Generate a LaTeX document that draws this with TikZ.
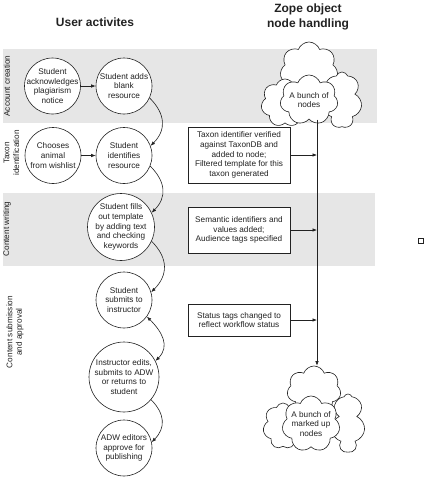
\documentclass[tikz,border=0pt]{standalone}
\usepackage{fontspec}
\setmainfont{Liberation Sans}
\usetikzlibrary{arrows.meta,shapes.symbols}
\definecolor{band}{HTML}{E6E6E6}
\definecolor{ink}{HTML}{222222}
\begin{document}
\begin{tikzpicture}[x=1pt,y=-1pt,
  every node/.style={font=\fontsize{8.2}{9.7}\selectfont, text=ink},
  ttl/.style={font=\bfseries\fontsize{12}{15}\selectfont, align=center},
  lane/.style={rotate=90, align=center},
  circ/.style={circle, draw=ink, line width=0.6pt, fill=white, inner sep=0pt, minimum size=#1},
  circ/.default=56pt,
  ctext/.style={align=center},
  box/.style={rectangle, draw=ink, line width=0.6pt, fill=white, align=center, minimum width=102pt, inner sep=1pt},
  puff/.style={cloud, cloud puffs=7, cloud puff arc=140, cloud ignores aspect, draw=ink, fill=white, line width=0.6pt, inner sep=0pt},
  arr/.style={draw=ink, line width=0.6pt, -{Latex[length=4.5pt,width=3.5pt]}},
  darr/.style={draw=ink, line width=0.6pt, {Latex[length=4.5pt,width=3.5pt]}-{Latex[length=4.5pt,width=3.5pt]}}
]
\useasboundingbox (0,0) rectangle (424,480);
% bands
\fill[band] (3,49) rectangle (377,123);
\fill[band] (3,193) rectangle (375,266);
% titles
\node[ttl] (t1) at (95,22) {User activites};
\node[ttl] (t2) at (308,17) {Zope object\\node handling};
% lane labels
\node[lane] (l1) at (7,86) {Account creation};
\node[lane] (l2) at (11.5,153) {Taxon\\identification};
\node[lane] (l3) at (7,229) {Content writing};
\node[lane] (l4) at (15,332) {Content submission\\and approval};
% circles
\node[circ, label={[ctext]center:{Student\\acknowledges\\plagiarism\\notice}}] (c1) at (52.5,86) {};
\node[circ, label={[ctext]center:{Student adds\\blank\\resource}}] (c2) at (124,86) {};
\node[circ, label={[ctext]center:{Chooses\\animal\\from wishlist}}] (c3) at (53,155.5) {};
\node[circ, label={[ctext]center:{Student\\identifies\\resource}}] (c4) at (124,155.5) {};
\node[circ=67pt, label={[ctext]center:{Student fills\\out template\\by adding text\\and checking\\keywords}}] (c5) at (121,227) {};
\node[circ, label={[ctext]center:{Student\\submits to\\instructor}}] (c6) at (124,300) {};
\node[circ=70pt, label={[ctext]center:{Instructor edits,\\submits to ADW\\or returns to\\student}}] (c7) at (124,377) {};
\node[circ, label={[ctext]center:{ADW editors\\approve for\\publishing}}] (c8) at (124,448) {};
% circle connectors
\draw[arr] (c1) -- (c2);
\draw[arr] (c3) -- (c4);
\draw[arr] (c2.-25) to[out=-45,in=45,looseness=1.2] (c4.20);
\draw[arr] (c4.-22) to[out=-45,in=45,looseness=1.2] (c5.25);
\draw[arr] (c5.-25) to[out=-45,in=45,looseness=1.2] (c6.16);
\draw[darr] (c6.-36) to[out=-45,in=45,looseness=1.2] (c7.27);
\draw[arr] (c7.-40) to[out=-45,in=45,looseness=1.2] (c8.12);
% boxes
\node[box, minimum height=56pt] (b1) at (239,155) {Taxon identifier verified\\against TaxonDB and\\added to node;\\Filtered template for this\\taxon generated};
\node[box, minimum height=46pt] (b2) at (239,230) {Semantic identifiers and\\values added;\\Audience tags specified};
\node[box, minimum height=32pt] (b3) at (239,320) {Status tags changed to\\reflect workflow status};
% clouds top
\node[puff, minimum width=58pt, minimum height=56pt, shape border rotate=10] (cl1a) at (309,70) {};
\node[puff, minimum width=48pt, minimum height=48pt, shape border rotate=30] (cl1b) at (285,103) {};
\node[puff, minimum width=40pt, minimum height=56pt, shape border rotate=20] (cl1c) at (342,100) {};
\node[puff, minimum width=58pt, minimum height=50pt, label={[ctext]center:{A bunch of\\nodes}}] (cl1d) at (309,100) {};
% clouds bottom
\node[puff, minimum width=54pt, minimum height=48pt, shape border rotate=10] (cl2a) at (314,390) {};
\node[puff, minimum width=40pt, minimum height=46pt, shape border rotate=30] (cl2b) at (283,426) {};
\node[puff, minimum width=34pt, minimum height=58pt, shape border rotate=20] (cl2c) at (348,423) {};
\node[puff, minimum width=58pt, minimum height=56pt, label={[ctext]center:{A bunch of\\marked up\\nodes}}] (cl2d) at (311,424) {};
% main line
\coordinate (lx) at (317,0);
\draw[arr] (lx |- cl1d.south) -- (lx |- cl2a.north);
\draw[arr] (b1.east) -- (b1.east -| lx);
\draw[arr] (b2.east) -- (b2.east -| lx);
\draw[arr] (b3.east) -- (b3.east -| lx);
% small square
\node[draw=ink, line width=0.5pt, minimum size=5pt, inner sep=0pt] (sq) at (420.5,241) {};
\end{tikzpicture}
\end{document}
